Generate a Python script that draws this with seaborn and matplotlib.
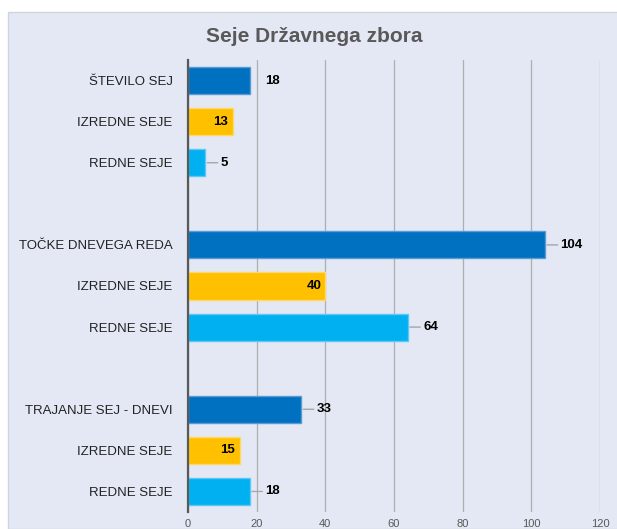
import matplotlib
matplotlib.use("Agg")
import matplotlib.pyplot as plt
from matplotlib.patches import Rectangle
import seaborn as sns
import pandas as pd

# chart data
labels = ["ŠTEVILO SEJ", "IZREDNE SEJE", "REDNE SEJE",
          "TOČKE DNEVEGA REDA", "IZREDNE SEJE", "REDNE SEJE",
          "TRAJANJE SEJ - DNEVI", "IZREDNE SEJE", "REDNE SEJE"]
kinds = ["skupaj", "izredne", "redne"] * 3
values = [18, 13, 5, 104, 40, 64, 33, 15, 18]
slots = [0, 1, 2, 4, 5, 6, 8, 9, 10]   # empty slot between groups
x_ticks = [0, 20, 40, 60, 80, 100, 120]

palette = {"skupaj": "#0070C0", "izredne": "#FFC000", "redne": "#00B0F0"}
edges = {"skupaj": "#5B9BD5", "izredne": "#FFD966", "redne": "#5BC8F5"}
bg = "#E3E8F4"

df = pd.DataFrame({"slot": slots, "val": values, "kind": kinds, "label": labels})

sns.set_theme(style="white")
plt.rcParams["font.family"] = ["Liberation Sans", "DejaVu Sans"]

fig = plt.figure(figsize=(6.17, 5.29), dpi=100)
fig.patches.append(Rectangle((8 / 617, 0), 1, 1 - 12 / 529, transform=fig.transFigure,
                             facecolor=bg, edgecolor="#D0D4DC", lw=1, zorder=-10))
ax = fig.add_axes([188 / 617, 1 - 512 / 529, 412 / 617, 452 / 529])
ax.set_facecolor(bg)

sns.barplot(data=df, x="val", y="slot", hue="kind", palette=palette, orient="h",
            native_scale=True, dodge=False, width=0.66, saturation=1, legend=False,
            ax=ax, zorder=3)

bars = sorted(ax.patches, key=lambda p: p.get_y())
for bar, k in zip(bars, kinds):
    bar.set_edgecolor(edges[k])
    bar.set_linewidth(1)

ax.set_xlim(0, 120)
ax.set_ylim(10.5, -0.5)
ax.set_xticks(x_ticks)
ax.set_xticklabels([str(t) for t in x_ticks], fontsize=8, color="#595959")
ax.set_yticks(slots)
ax.set_yticklabels(labels, fontsize=9.5, color="#222222")
ax.tick_params(axis="y", length=0, pad=11)
ax.tick_params(axis="x", length=0, pad=5)
ax.set_xlabel("")
ax.set_ylabel("")
ax.grid(axis="x", color="#AEAEAE", lw=0.9, zorder=0)
for s in ["top", "right", "bottom"]:
    ax.spines[s].set_visible(False)
ax.spines["left"].set_color("#595959")
ax.spines["left"].set_linewidth(1.6)
ax.spines["left"].set_zorder(5)

# value labels
for i, bar in enumerate(bars):
    end = bar.get_width()
    yc = bar.get_y() + bar.get_height() / 2
    txt = str(values[i])
    if kinds[i] == "izredne":
        ax.annotate(txt, (end, yc), xytext=(-3, 0), textcoords="offset points",
                    ha="right", va="center", fontsize=9.5, fontweight="bold", color="black", zorder=6)
    else:
        if i != 0:
            ax.annotate("", (end, yc), xytext=(9, 0), textcoords="offset points",
                        arrowprops=dict(arrowstyle="-", color="#A6A6A6", lw=1, shrinkA=0, shrinkB=1.5))
        ax.annotate(txt, (end, yc), xytext=(11, 0), textcoords="offset points",
                    ha="left", va="center", fontsize=9.5, fontweight="bold", color="black", zorder=6)

fig.text(0.51, 1 - 37 / 529, "Seje Državnega zbora", ha="center", va="center",
         fontsize=15, fontweight="bold", color="#595959")

fig.savefig("out.png", dpi=100, facecolor="white")
